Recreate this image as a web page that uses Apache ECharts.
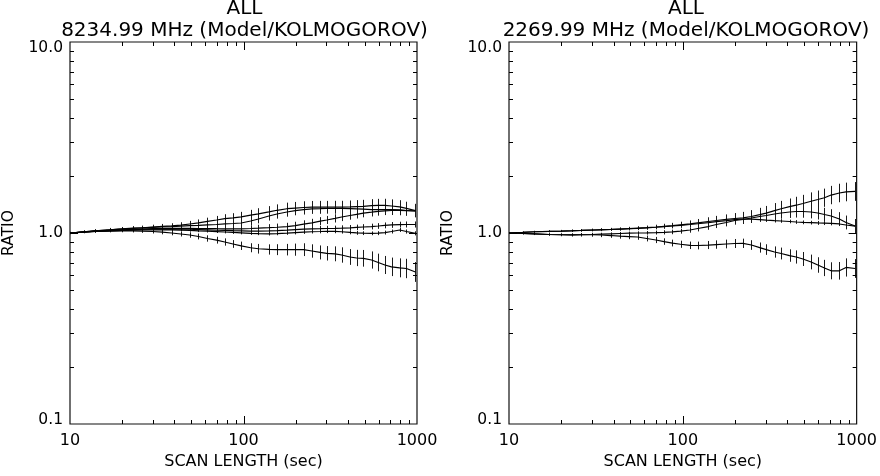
<!DOCTYPE html>
<html>
<head>
<meta charset="utf-8">
<title>Model/KOLMOGOROV ratio</title>
<script src="https://cdn.jsdelivr.net/npm/echarts@6/dist/echarts.min.js"></script>
<style>
    html, body { margin: 0; padding: 0; background: #fff; }
    #main { width: 880px; height: 476px; }
</style>
</head>
<body>
<div id="main"></div>
<script>
    // scan lengths (sec), same grid for both panels
    var scanLen = [10, 12, 14, 17, 20, 23, 26, 30, 34, 38.5, 43.5, 49, 55, 62, 70, 78, 87, 97, 110, 122,
        140, 156, 178, 199, 222, 248, 277, 302, 337, 368, 411, 449, 491, 547, 598, 653, 713, 795, 869, 980];

    // 8234.99 MHz panel
    var xA = [1.00, 1.015, 1.027, 1.04, 1.05, 1.06, 1.065, 1.075, 1.083, 1.09, 1.10, 1.115, 1.13, 1.15, 1.17, 1.19, 1.20, 1.215, 1.24, 1.26,
        1.29, 1.315, 1.34, 1.35, 1.36, 1.365, 1.365, 1.365, 1.365, 1.365, 1.37, 1.375, 1.38, 1.39, 1.395, 1.395, 1.385, 1.37, 1.345, 1.31];
    var xB = [1.00, 1.015, 1.027, 1.039, 1.05, 1.057, 1.065, 1.071, 1.076, 1.081, 1.087, 1.092, 1.097, 1.103, 1.108, 1.115, 1.121, 1.128, 1.156, 1.184,
        1.227, 1.257, 1.288, 1.311, 1.324, 1.336, 1.34, 1.344, 1.344, 1.344, 1.34, 1.336, 1.332, 1.327, 1.327, 1.327, 1.324, 1.32, 1.312, 1.304];
    var xC = [1.00, 1.012, 1.022, 1.032, 1.039, 1.044, 1.049, 1.053, 1.056, 1.057, 1.057, 1.057, 1.056, 1.055, 1.053, 1.052, 1.052, 1.052, 1.056, 1.06,
        1.066, 1.072, 1.081, 1.094, 1.112, 1.131, 1.153, 1.17, 1.193, 1.213, 1.235, 1.253, 1.271, 1.285, 1.298, 1.307, 1.312, 1.312, 1.309, 1.304];
    var xD = [1.00, 1.012, 1.022, 1.031, 1.037, 1.042, 1.046, 1.048, 1.049, 1.049, 1.048, 1.046, 1.042, 1.038, 1.034, 1.031, 1.028, 1.026, 1.024, 1.024,
        1.026, 1.029, 1.035, 1.042, 1.047, 1.05, 1.053, 1.056, 1.058, 1.061, 1.065, 1.07, 1.075, 1.081, 1.088, 1.096, 1.102, 1.106, 1.108, 1.108];
    var xE = [1.00, 1.011, 1.019, 1.027, 1.032, 1.035, 1.038, 1.039, 1.039, 1.038, 1.035, 1.032, 1.027, 1.022, 1.017, 1.012, 1.007, 1.002, 0.996, 0.993,
        0.99, 0.993, 0.998, 1.004, 1.01, 1.015, 1.018, 1.021, 1.019, 1.015, 1.007, 1.001, 0.998, 0.996, 0.998, 1.005, 1.018, 1.037, 1.018, 0.996];
    var xF = [1.00, 1.011, 1.018, 1.024, 1.027, 1.027, 1.024, 1.018, 1.01, 1.00, 0.988, 0.976, 0.959, 0.936, 0.917, 0.897, 0.876, 0.857, 0.837, 0.827,
        0.82, 0.818, 0.818, 0.818, 0.818, 0.805, 0.791, 0.783, 0.778, 0.767, 0.749, 0.74, 0.737, 0.722, 0.701, 0.68, 0.665, 0.657, 0.652, 0.625];

    // relative error bars, 8234.99 MHz
    var errA = [0.015, 0.018, 0.02, 0.022, 0.024, 0.025, 0.026, 0.028, 0.03, 0.032, 0.035, 0.038, 0.042, 0.046, 0.05, 0.054, 0.058, 0.062, 0.066, 0.07,
        0.072, 0.074, 0.076, 0.077, 0.078, 0.078, 0.079, 0.079, 0.08, 0.08, 0.08, 0.081, 0.081, 0.082, 0.082, 0.083, 0.083, 0.084, 0.084, 0.085];
    var errB = [0.012, 0.014, 0.016, 0.018, 0.02, 0.021, 0.022, 0.024, 0.026, 0.028, 0.03, 0.032, 0.035, 0.038, 0.041, 0.044, 0.047, 0.05, 0.052, 0.054,
        0.056, 0.057, 0.058, 0.059, 0.06, 0.06, 0.061, 0.061, 0.062, 0.062, 0.063, 0.063, 0.064, 0.064, 0.065, 0.065, 0.066, 0.066, 0.067, 0.067];
    var errC = [0.01, 0.012, 0.014, 0.016, 0.017, 0.018, 0.02, 0.021, 0.022, 0.024, 0.025, 0.026, 0.028, 0.03, 0.032, 0.034, 0.036, 0.038, 0.04, 0.042,
        0.044, 0.045, 0.046, 0.047, 0.048, 0.049, 0.05, 0.05, 0.051, 0.051, 0.052, 0.052, 0.052, 0.053, 0.053, 0.053, 0.054, 0.054, 0.054, 0.055];
    var errD = [0.01, 0.012, 0.013, 0.014, 0.015, 0.016, 0.017, 0.018, 0.019, 0.02, 0.021, 0.022, 0.023, 0.024, 0.025, 0.026, 0.027, 0.028, 0.029, 0.03,
        0.03, 0.031, 0.031, 0.032, 0.032, 0.032, 0.033, 0.033, 0.033, 0.034, 0.034, 0.034, 0.035, 0.035, 0.035, 0.036, 0.036, 0.036, 0.037, 0.037];
    var errE = [0.008, 0.009, 0.01, 0.011, 0.012, 0.012, 0.013, 0.013, 0.014, 0.014, 0.015, 0.015, 0.016, 0.016, 0.017, 0.017, 0.018, 0.018, 0.019, 0.019,
        0.02, 0.02, 0.02, 0.021, 0.021, 0.021, 0.022, 0.022, 0.022, 0.022, 0.023, 0.023, 0.023, 0.023, 0.024, 0.024, 0.024, 0.024, 0.025, 0.025];
    var errF = [0.01, 0.012, 0.014, 0.016, 0.018, 0.02, 0.022, 0.024, 0.026, 0.028, 0.03, 0.033, 0.036, 0.039, 0.042, 0.045, 0.048, 0.052, 0.056, 0.06,
        0.064, 0.068, 0.072, 0.076, 0.08, 0.084, 0.088, 0.091, 0.094, 0.097, 0.1, 0.103, 0.106, 0.109, 0.112, 0.115, 0.118, 0.121, 0.124, 0.127];

    // 2269.99 MHz panel
    var sP = [1.00, 1.008, 1.015, 1.021, 1.024, 1.028, 1.032, 1.037, 1.041, 1.044, 1.049, 1.054, 1.06, 1.066, 1.075, 1.084, 1.093, 1.104, 1.117, 1.131,
        1.149, 1.163, 1.178, 1.191, 1.201, 1.22, 1.247, 1.27, 1.309, 1.339, 1.373, 1.398, 1.427, 1.467, 1.498, 1.53, 1.58, 1.62, 1.64, 1.65];
    var sQ = [1.00, 0.994, 0.989, 0.982, 0.979, 0.977, 0.979, 0.982, 0.986, 0.99, 0.994, 0.998, 1.00, 1.002, 1.005, 1.008, 1.013, 1.022, 1.037, 1.056,
        1.081, 1.108, 1.135, 1.163, 1.177, 1.198, 1.22, 1.235, 1.257, 1.273, 1.288, 1.296, 1.296, 1.288, 1.273, 1.25, 1.228, 1.184, 1.135, 1.088];
    var sR = [1.00, 1.008, 1.015, 1.019, 1.023, 1.027, 1.031, 1.036, 1.039, 1.043, 1.048, 1.053, 1.058, 1.065, 1.072, 1.08, 1.088, 1.097, 1.108, 1.118,
        1.132, 1.146, 1.16, 1.174, 1.184, 1.181, 1.174, 1.167, 1.16, 1.156, 1.149, 1.142, 1.137, 1.133, 1.129, 1.127, 1.123, 1.115, 1.101, 1.086];
    var sS = [1.00, 0.994, 0.989, 0.982, 0.979, 0.977, 0.979, 0.979, 0.976, 0.97, 0.962, 0.958, 0.953, 0.936, 0.919, 0.902, 0.886, 0.873, 0.862, 0.86,
        0.865, 0.87, 0.876, 0.881, 0.883, 0.865, 0.839, 0.819, 0.795, 0.781, 0.762, 0.749, 0.731, 0.705, 0.68, 0.656, 0.634, 0.634, 0.66, 0.652];

    // relative error bars, 2269.99 MHz
    var errP = [0.01, 0.011, 0.012, 0.013, 0.014, 0.015, 0.016, 0.017, 0.018, 0.019, 0.02, 0.022, 0.024, 0.026, 0.028, 0.031, 0.034, 0.038, 0.042, 0.047,
        0.052, 0.057, 0.062, 0.068, 0.074, 0.08, 0.086, 0.091, 0.096, 0.1, 0.104, 0.107, 0.11, 0.112, 0.114, 0.116, 0.117, 0.118, 0.119, 0.12];
    var errQ = [0.008, 0.009, 0.01, 0.011, 0.012, 0.013, 0.014, 0.015, 0.016, 0.017, 0.018, 0.019, 0.02, 0.022, 0.024, 0.026, 0.028, 0.03, 0.033, 0.036,
        0.04, 0.044, 0.048, 0.052, 0.056, 0.06, 0.064, 0.067, 0.07, 0.072, 0.074, 0.076, 0.078, 0.08, 0.082, 0.084, 0.085, 0.086, 0.087, 0.088];
    var errR = [0.006, 0.007, 0.008, 0.009, 0.01, 0.011, 0.012, 0.012, 0.013, 0.013, 0.014, 0.014, 0.015, 0.015, 0.016, 0.016, 0.017, 0.017, 0.018, 0.018,
        0.019, 0.019, 0.02, 0.02, 0.02, 0.021, 0.021, 0.021, 0.022, 0.022, 0.022, 0.023, 0.023, 0.023, 0.024, 0.024, 0.024, 0.025, 0.025, 0.025];
    var errS = [0.01, 0.012, 0.014, 0.016, 0.018, 0.02, 0.022, 0.024, 0.026, 0.028, 0.03, 0.032, 0.034, 0.036, 0.038, 0.04, 0.042, 0.044, 0.046, 0.048,
        0.05, 0.052, 0.054, 0.056, 0.058, 0.06, 0.063, 0.066, 0.07, 0.074, 0.078, 0.083, 0.088, 0.093, 0.098, 0.103, 0.108, 0.112, 0.116, 0.12];

    var panelTitles = ['ALL\n8234.99 MHz (Model/KOLMOGOROV)', 'ALL\n2269.99 MHz (Model/KOLMOGOROV)'];

    // axis tick marks (IDL style, drawn inside the box on all sides)
    var xMinorTicks = [20, 30, 40, 50, 60, 70, 80, 90, 200, 300, 400, 500, 600, 700, 800, 900];
    var xMajorTicks = [100];
    var yMinorTicks = [0.2, 0.3, 0.4, 0.5, 0.6, 0.7, 0.8, 0.9, 2, 3, 4, 5, 6, 7, 8, 9];
    var yMajorTicks = [1];

    var FONT = 'DejaVu Sans';
    var INK = '#000';

    var panels = [
        { left: 68, width: 349, lines: [xA, xB, xC, xD, xE, xF], errs: [errA, errB, errC, errD, errE, errF] },
        { left: 509, width: 350, lines: [sP, sQ, sR, sS], errs: [errP, errQ, errR, errS] }
    ];

    function crisp(v) {
        return Math.round(v) + 0.5;
    }

    function xTickItem(params, api) {
        var cs = params.coordSys;
        var px = crisp(api.coord([api.value(0), 1])[0]);
        var len = api.value(2);
        var st = { stroke: INK, lineWidth: 1 };
        return {
            type: 'group',
            children: [
                { type: 'line', shape: { x1: px, y1: cs.y + cs.height, x2: px, y2: cs.y + cs.height - len }, style: st },
                { type: 'line', shape: { x1: px, y1: cs.y, x2: px, y2: cs.y + len }, style: st }
            ]
        };
    }

    function yTickItem(params, api) {
        var cs = params.coordSys;
        var py = crisp(api.coord([100, api.value(1)])[1]);
        var len = api.value(2);
        var st = { stroke: INK, lineWidth: 1 };
        return {
            type: 'group',
            children: [
                { type: 'line', shape: { x1: cs.x, y1: py, x2: cs.x + len, y2: py }, style: st },
                { type: 'line', shape: { x1: cs.x + cs.width, y1: py, x2: cs.x + cs.width - len, y2: py }, style: st }
            ]
        };
    }

    function errItem(params, api) {
        var lo = api.coord([api.value(0), api.value(1)]);
        var hi = api.coord([api.value(0), api.value(2)]);
        var px = crisp(lo[0]);
        return {
            type: 'line',
            shape: { x1: px, y1: lo[1], x2: px, y2: hi[1] },
            style: { stroke: '#1a1a1a', lineWidth: 1 }
        };
    }

    // y labels: top one sits a little below the frame, bottom one a little above
    function yLabel(v) {
        var s = (+v).toFixed(1);
        if (v >= 9.99) return '{hi|' + s + '}';
        if (v <= 0.101) return '{lo|' + s + '}';
        return s;
    }

    var grids = [], xAxes = [], yAxes = [], titles = [], series = [];

    panels.forEach(function (p, k) {
        grids.push({
            left: p.left, width: p.width, top: 42, height: 382,
            show: true, borderColor: '#111', borderWidth: 1.2, backgroundColor: 'transparent'
        });
        xAxes.push({
            type: 'log', logBase: 10, gridIndex: k, min: 10, max: 1000,
            name: 'SCAN LENGTH (sec)', nameLocation: 'middle', nameGap: 30,
            nameTextStyle: { fontFamily: FONT, fontSize: 16, color: INK },
            axisLine: { show: false }, axisTick: { show: false }, splitLine: { show: false },
            axisLabel: {
                fontFamily: FONT, fontSize: 16, color: INK, margin: 9,
                formatter: function (v) { return String(Math.round(v)); }
            }
        });
        yAxes.push({
            type: 'log', logBase: 10, gridIndex: k, min: 0.1, max: 10,
            name: 'RATIO', nameLocation: 'middle', nameGap: 53,
            nameTextStyle: { fontFamily: FONT, fontSize: 15.5, color: INK },
            axisLine: { show: false }, axisTick: { show: false }, splitLine: { show: false },
            axisLabel: {
                fontFamily: FONT, fontSize: 15.5, color: INK, margin: 7,
                formatter: yLabel,
                rich: {
                    hi: { fontFamily: FONT, fontSize: 15.5, color: INK, padding: [12, 0, 0, 0] },
                    lo: { fontFamily: FONT, fontSize: 15.5, color: INK, padding: [0, 0, 8, 0] }
                }
            }
        });
        titles.push({
            text: panelTitles[k],
            left: p.left + p.width / 2 + 2, top: -2, textAlign: 'center', padding: 0,
            textStyle: { fontFamily: FONT, fontSize: 20, fontWeight: 'normal', color: INK, lineHeight: 22 }
        });

        p.lines.forEach(function (vals, j) {
            var err = p.errs[j];
            series.push({
                type: 'line', xAxisIndex: k, yAxisIndex: k,
                data: scanLen.map(function (x, i) { return [x, vals[i]]; }),
                showSymbol: false, silent: true,
                lineStyle: { color: INK, width: 1.2 }
            });
            series.push({
                type: 'custom', xAxisIndex: k, yAxisIndex: k, silent: true,
                renderItem: errItem,
                encode: { x: 0, y: [1, 2] },
                data: scanLen.map(function (x, i) {
                    return [x, vals[i] / (1 + err[i]), vals[i] * (1 + err[i])];
                })
            });
        });

        // tick marks along x (bottom and top)
        series.push({
            type: 'custom', xAxisIndex: k, yAxisIndex: k, silent: true, clip: false,
            renderItem: xTickItem,
            data: xMinorTicks.map(function (v) { return [v, 1, 4]; })
                .concat(xMajorTicks.map(function (v) { return [v, 1, 8]; }))
        });
        // tick marks along y (left and right)
        series.push({
            type: 'custom', xAxisIndex: k, yAxisIndex: k, silent: true, clip: false,
            renderItem: yTickItem,
            data: yMinorTicks.map(function (v) { return [100, v, 4]; })
                .concat(yMajorTicks.map(function (v) { return [100, v, 8]; }))
        });
    });

    var myChart = echarts.init(document.getElementById('main'));
    myChart.setOption({
        animation: false,
        backgroundColor: '#fff',
        title: titles,
        grid: grids,
        xAxis: xAxes,
        yAxis: yAxes,
        series: series
    });
</script>
</body>
</html>
